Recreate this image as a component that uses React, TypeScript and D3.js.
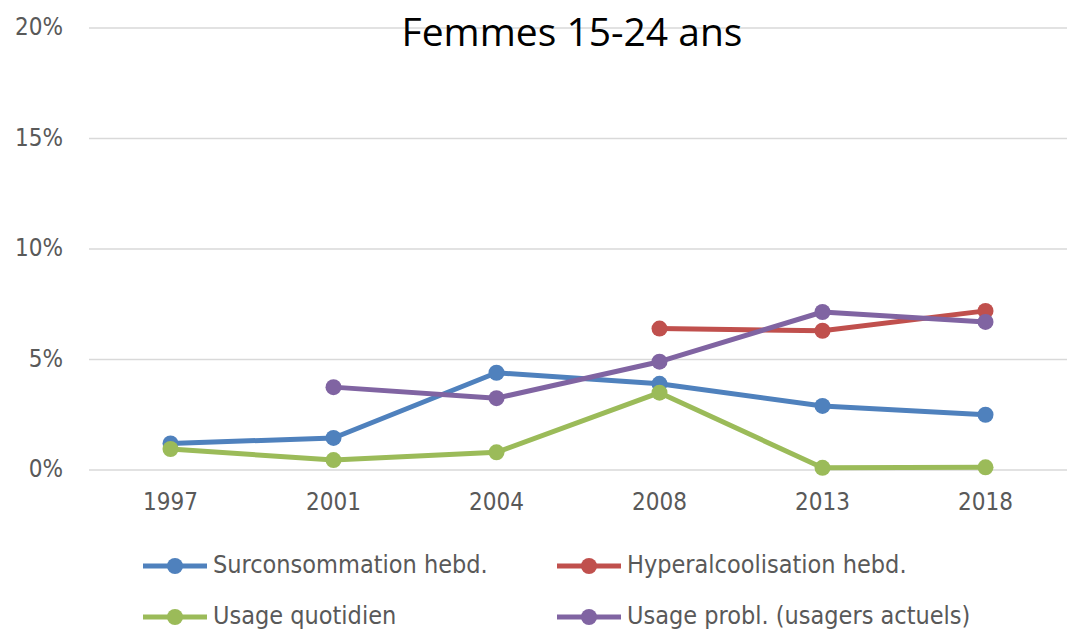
import React from 'react';
import * as d3 from 'd3';

const W = 1067;
const H = 631;

const years = ['1997', '2001', '2004', '2008', '2013', '2018'];
const yTicks = [0, 0.05, 0.1, 0.15, 0.2];

// null = pas de donnée pour l'année
const surconsommation = [0.012, 0.0145, 0.044, 0.039, 0.029, 0.025];
const hyperalcoolisation = [null, null, null, 0.064, 0.063, 0.072];
const usageQuotidien = [0.0095, 0.0045, 0.008, 0.035, 0.001, 0.0012];
const usageProbl = [null, 0.0375, 0.0325, 0.049, 0.0715, 0.067];

const seriesNames = [
  'Surconsommation hebd.',
  'Hyperalcoolisation hebd.',
  'Usage quotidien',
  'Usage probl. (usagers actuels)',
];
const seriesColors = ['#4F81BD', '#C0504D', '#9BBB59', '#8064A2'];
const seriesValues = [surconsommation, hyperalcoolisation, usageQuotidien, usageProbl];

const MARGIN = { top: 28, right: 0, bottom: 161, left: 89 };
const FONT = '"Liberation Sans Narrow", "DejaVu Sans Condensed", "Liberation Sans", sans-serif';

export default function App() {
  const x = d3.scaleBand<string>().domain(years).range([MARGIN.left, W - MARGIN.right]);
  const y = d3.scaleLinear().domain([0, 0.2]).range([H - MARGIN.bottom, MARGIN.top]);
  const cx = (yr: string) => (x(yr) as number) + x.bandwidth() / 2;
  const fmt = d3.format('.0%');

  const line = d3
    .line<number | null>()
    .defined(d => d != null)
    .x((_, i) => cx(years[i]))
    .y(d => y(d as number));

  // légende: 2 colonnes x 2 lignes
  const legendPos = [
    { x: 143, y: 566 },
    { x: 557, y: 566 },
    { x: 143, y: 617 },
    { x: 557, y: 617 },
  ];

  return (
    <svg
      width={W}
      height={H}
      style={{ position: 'absolute', left: 0, top: 0, background: '#fff' }}
    >
      {/* grille */}
      {yTicks.map(t => (
        <g key={t}>
          <line x1={MARGIN.left} x2={W} y1={y(t)} y2={y(t)} stroke="#D9D9D9" strokeWidth={1.3} />
          <text
            x={63}
            y={y(t)}
            textAnchor="end"
            dominantBaseline="middle"
            fontFamily={FONT}
            fontSize={24}
            fill="#595959"
          >
            {fmt(t)}
          </text>
        </g>
      ))}

      {years.map(yr => (
        <text
          key={yr}
          x={cx(yr)}
          y={510}
          textAnchor="middle"
          fontFamily={FONT}
          fontSize={24}
          fill="#595959"
        >
          {yr}
        </text>
      ))}

      <text
        x={572}
        y={46}
        textAnchor="middle"
        fontFamily='"Open Sans", "Noto Sans", sans-serif'
        fontSize={39}
        fill="#000"
      >
        Femmes 15-24 ans
      </text>

      {seriesValues.map((vals, s) => (
        <g key={seriesNames[s]}>
          <path
            d={line(vals) || ''}
            fill="none"
            stroke={seriesColors[s]}
            strokeWidth={5}
            strokeLinejoin="round"
          />
          {vals.map((v, i) =>
            v == null ? null : (
              <circle key={i} cx={cx(years[i])} cy={y(v)} r={8} fill={seriesColors[s]} />
            )
          )}
        </g>
      ))}

      {seriesNames.map((name, s) => (
        <g key={name} transform={`translate(${legendPos[s].x},${legendPos[s].y})`}>
          <line x1={0} x2={64} y1={0} y2={0} stroke={seriesColors[s]} strokeWidth={5} />
          <circle cx={32} cy={0} r={8} fill={seriesColors[s]} />
          <text
            x={70}
            y={0}
            dominantBaseline="middle"
            fontFamily={FONT}
            fontSize={25}
            fill="#595959"
          >
            {name}
          </text>
        </g>
      ))}
    </svg>
  );
}
